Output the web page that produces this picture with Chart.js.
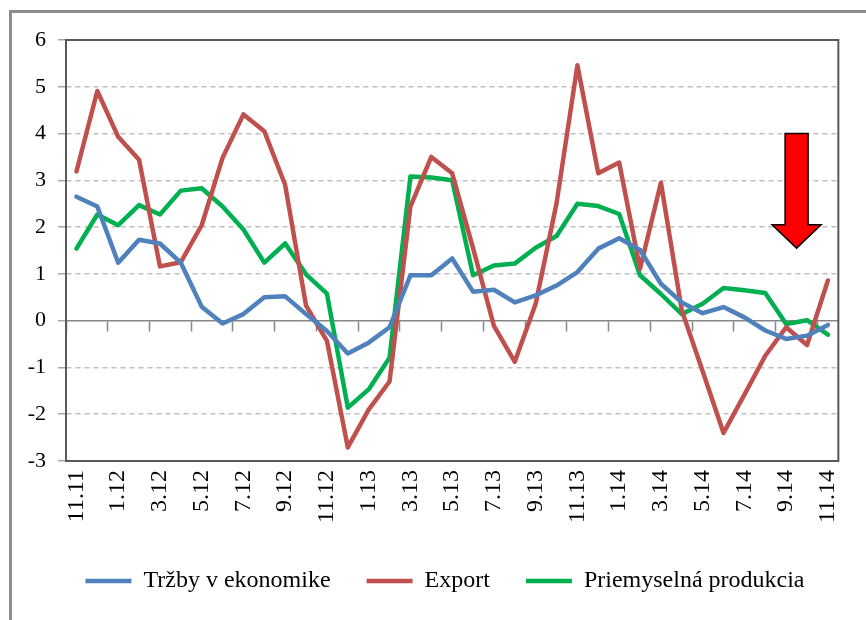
<!DOCTYPE html>
<html>
<head>
<meta charset="utf-8">
<script src="https://cdn.jsdelivr.net/npm/chart.js@4/dist/chart.umd.min.js"></script>
<style>
    body { margin: 0; background: #fff; }
    #wrap { position: relative; width: 866px; height: 620px; overflow: hidden; }
    #frame {
        position: absolute; left: 9px; top: 10px; right: -10px; bottom: -10px;
        border-top: 3px solid #8c8c8c; border-left: 3px solid #8c8c8c;
        pointer-events: none;
    }
    canvas { position: absolute; left: 0; top: 0; }
</style>
</head>
<body>
<div id="wrap">
    <canvas id="chart" width="866" height="620"></canvas>
    <div id="frame"></div>
</div>
<script>
// months 11.2011 - 11.2014
const months = [
    '11.11', '12.11',
    '1.12', '2.12', '3.12', '4.12', '5.12', '6.12', '7.12', '8.12', '9.12', '10.12', '11.12', '12.12',
    '1.13', '2.13', '3.13', '4.13', '5.13', '6.13', '7.13', '8.13', '9.13', '10.13', '11.13', '12.13',
    '1.14', '2.14', '3.14', '4.14', '5.14', '6.14', '7.14', '8.14', '9.14', '10.14', '11.14'
];

const trzby = [2.65, 2.44, 1.24, 1.73, 1.65, 1.24, 0.30, -0.06, 0.14, 0.50, 0.52, 0.14, -0.22,
    -0.70, -0.47, -0.14, 0.97, 0.97, 1.33, 0.62, 0.66, 0.39, 0.54, 0.75, 1.04,
    1.54, 1.76, 1.51, 0.79, 0.39, 0.16, 0.29, 0.07, -0.21, -0.39, -0.32, -0.09];

const exportData = [3.19, 4.91, 3.93, 3.44, 1.16, 1.25, 2.04, 3.48, 4.41, 4.05, 2.90, 0.32, -0.43,
    -2.71, -1.90, -1.30, 2.44, 3.50, 3.15, 1.55, -0.11, -0.88, 0.36, 2.51, 5.46,
    3.15, 3.38, 1.11, 2.95, 0.22, -1.08, -2.40, -1.58, -0.75, -0.14, -0.52, 0.86];

const priemysel = [1.54, 2.27, 2.04, 2.47, 2.27, 2.78, 2.83, 2.44, 1.95, 1.24, 1.65, 0.99, 0.58,
    -1.86, -1.47, -0.79, 3.08, 3.06, 3.00, 0.97, 1.18, 1.22, 1.56, 1.81, 2.50,
    2.45, 2.28, 0.97, 0.57, 0.14, 0.36, 0.70, 0.65, 0.59, -0.07, 0.01, -0.30];

const yMin = -3, yMax = 6;

// red arrow marker (category index / value units)
const arrowPos = { x: 34.5, top: 4.0, neck: 2.05, tip: 1.55 };

const serif = 'Liberation Serif';

// frame around the plot area
const plotBorder = {
    id: 'plotBorder',
    beforeDatasetsDraw: (chart) => {
        const { ctx, chartArea: a } = chart;
        ctx.save();
        ctx.strokeStyle = '#595959';
        ctx.lineWidth = 2;
        ctx.strokeRect(a.left, a.top, a.right - a.left, a.bottom - a.top);
        ctx.restore();
    }
};

// legend sits a bit right of the canvas centre in the original
const legendShift = {
    id: 'legendShift',
    afterLayout: (chart) => {
        if (!chart.legend) return;
        chart.legend.left += 18;
        chart.legend.right += 18;
    }
};

const downArrow = {
    id: 'downArrow',
    afterDatasetsDraw: (chart) => {
        const { ctx } = chart;
        const xs = chart.scales.x, ys = chart.scales.y;
        const cx = xs.getPixelForValue(arrowPos.x);
        const top = ys.getPixelForValue(arrowPos.top);
        const neck = ys.getPixelForValue(arrowPos.neck);
        const tip = ys.getPixelForValue(arrowPos.tip);
        const sw = 11.5, hw = 24.5;
        ctx.save();
        ctx.beginPath();
        ctx.moveTo(cx - sw, top);
        ctx.lineTo(cx + sw, top);
        ctx.lineTo(cx + sw, neck);
        ctx.lineTo(cx + hw, neck);
        ctx.lineTo(cx, tip);
        ctx.lineTo(cx - hw, neck);
        ctx.lineTo(cx - sw, neck);
        ctx.closePath();
        ctx.fillStyle = '#ff0000';
        ctx.fill();
        ctx.strokeStyle = '#000';
        ctx.lineWidth = 1.5;
        ctx.stroke();
        ctx.restore();
    }
};

const lineSet = (label, data, color) => ({
    label: label,
    data: data,
    borderColor: color,
    backgroundColor: color,
    borderWidth: 4.5,
    pointRadius: 0,
    tension: 0,
    borderJoinStyle: 'round',
    borderCapStyle: 'round',
    xAxisID: 'x',
    yAxisID: 'y'
});

new Chart(document.getElementById('chart'), {
    type: 'line',
    data: {
        labels: months,
        datasets: [
            lineSet('Tržby v ekonomike', trzby, '#4f81bd'),
            lineSet('Export', exportData, '#c0504d'),
            lineSet('Priemyselná produkcia', priemysel, '#00b050')
        ]
    },
    options: {
        responsive: false,
        animation: false,
        layout: { padding: { top: 40, right: 22, left: 10, bottom: 17 } },
        plugins: {
            legend: {
                position: 'bottom',
                labels: {
                    usePointStyle: true,
                    pointStyle: 'line',
                    pointStyleWidth: 46,
                    padding: 36,
                    color: '#000',
                    font: { family: serif, size: 24 }
                }
            },
            tooltip: { enabled: false }
        },
        scales: {
            // axis line through zero with the small tick marks
            x: {
                type: 'category',
                position: { y: 0 },
                offset: true,
                ticks: { display: false, autoSkip: false },
                grid: {
                    offset: true,
                    drawOnChartArea: false,
                    drawTicks: true,
                    tickLength: 10,
                    tickWidth: 1.5,
                    tickColor: (c) => (c.index !== undefined && c.index % 2 === 0) ? '#868686' : 'rgba(0,0,0,0)'
                },
                border: { display: true, color: '#868686', width: 1.5 }
            },
            // labels at the bottom
            x2: {
                type: 'category',
                labels: months,
                position: 'bottom',
                offset: true,
                grid: { display: false, drawTicks: false },
                border: { display: false },
                ticks: {
                    autoSkip: false,
                    minRotation: 90,
                    maxRotation: 90,
                    padding: 9,
                    color: '#000',
                    font: { family: serif, size: 24 },
                    callback: (v, i) => i % 2 === 0 ? months[i] : ''
                },
                afterFit: (s) => { s.height = 72; }
            },
            y: {
                min: yMin,
                max: yMax,
                ticks: {
                    stepSize: 1,
                    padding: 12,
                    color: '#000',
                    font: { family: serif, size: 22 }
                },
                grid: {
                    color: (c) => c.tick && c.tick.value === 0 ? 'rgba(0,0,0,0)' : '#c0c0c0',
                    lineWidth: 1.5,
                    tickLength: 8,
                    tickColor: '#a6a6a6'
                },
                border: { display: true, color: '#868686', width: 1.5, dash: [5, 4] },
                afterFit: (s) => { s.width = 56; }
            }
        }
    },
    plugins: [plotBorder, legendShift, downArrow]
});
</script>
</body>
</html>
